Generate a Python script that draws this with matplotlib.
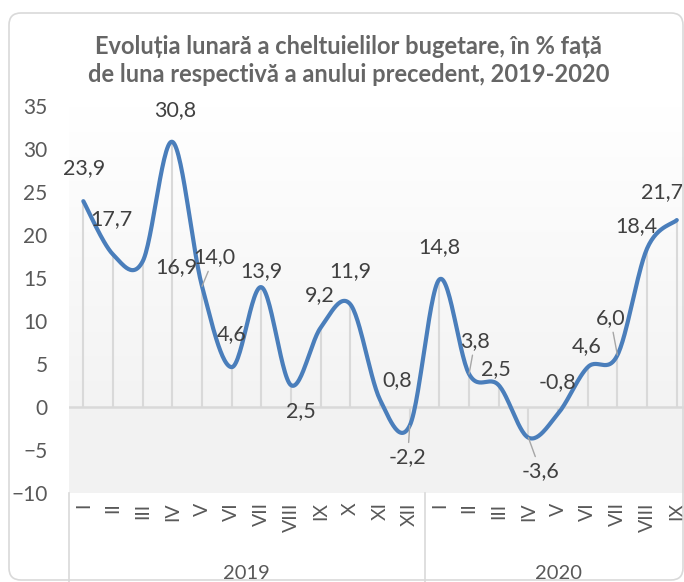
import numpy as np
import matplotlib.pyplot as plt
import matplotlib.transforms as mtransforms
from matplotlib.patches import FancyBboxPatch
from matplotlib.colors import LinearSegmentedColormap

plt.rcParams['font.family'] = ['Lato', 'DejaVu Sans']

# data
months = ['I', 'II', 'III', 'IV', 'V', 'VI', 'VII', 'VIII', 'IX', 'X', 'XI', 'XII',
          'I', 'II', 'III', 'IV', 'V', 'VI', 'VII', 'VIII', 'IX']
years = ['2019', '2020']
year_len = [12, 9]
values = [23.9, 17.7, 16.9, 30.8, 14.0, 4.6, 13.9, 2.5, 9.2, 11.9, 0.8, -2.2,
          14.8, 3.8, 2.5, -3.6, -0.8, 4.6, 6.0, 18.4, 21.7]

# label placement (pixels from the point), and which labels get a leader line
label_off = [(1, 33), (-2, 35), (34, -6), (3, 32), (12, 29), (0, 33), (0, 16),
             (10, -26), (-1, 32), (0, 33), (17, 20), (-2, -31), (0, 32), (6, 33),
             (-3, 16), (12, -33), (-1, 31), (-1, 21), (-7, 37), (-11, 22), (-15, 28)]
leaders = [4, 11, 13, 15, 18]

txt = '#595959'
blue = '#4A7EBB'
grid = '#d9d9d9'

fig = plt.figure(figsize=(6.84, 5.82), dpi=100)
ax = fig.add_axes([68.5 / 684, 89.3 / 582, 623.1 / 684, 387 / 582])

x = np.arange(len(values))
y = np.array(values)

# background: gradient above zero, flat grey below
cmap = LinearSegmentedColormap.from_list('bg', ['#f3f3f3', '#ffffff'])
ax.imshow(np.linspace(0, 1, 256).reshape(-1, 1), cmap=cmap, origin='lower',
          extent=(-0.5, 20.5, 0, 35), aspect='auto', zorder=0)
ax.axhspan(-10, 0, color='#f2f2f2', lw=0, zorder=0)

# drop lines and zero line
ax.vlines(x, 0, y, color=grid, lw=1.5, zorder=1)
ax.axhline(0, color=grid, lw=1.8, zorder=1)

# smoothed line (bezier through the points, like excel)
p = np.column_stack([x, y]).astype(float)
pp = np.vstack([p[0], p, p[-1]])
xs, ys = [], []
t = np.linspace(0, 1, 30)[:, None]
for i in range(len(p) - 1):
    p0, p1, p2, p3 = pp[i], pp[i + 1], pp[i + 2], pp[i + 3]
    c1 = p1 + (p2 - p0) / 6
    c2 = p2 - (p3 - p1) / 6
    b = ((1 - t) ** 3) * p1 + 3 * ((1 - t) ** 2) * t * c1 + 3 * (1 - t) * t ** 2 * c2 + t ** 3 * p2
    xs.extend(b[:, 0])
    ys.extend(b[:, 1])
ax.plot(xs, ys, color=blue, lw=3, solid_capstyle='round', zorder=3)

# data labels
for i, v in enumerate(values):
    s = ('%.1f' % v).replace('.', ',')
    dx, dy = label_off[i]
    ap = None
    if i in leaders:
        ap = dict(arrowstyle='-', color='#a6a6a6', lw=1, shrinkA=1, shrinkB=0)
    ax.annotate(s, (i, v), xytext=(dx, dy), textcoords='offset pixels',
                ha='center', va='center', fontsize=15.5, color='#404040',
                arrowprops=ap, zorder=4)

ax.set_xlim(-0.5, 20.5)
ax.set_ylim(-10, 35)
ax.set_yticks(range(-10, 36, 5))
ax.set_xticks(x)
ax.set_xticklabels(months, rotation=90)
ax.tick_params(axis='y', length=0, pad=15, labelsize=15, labelcolor=txt)
ax.tick_params(axis='x', length=0, pad=7, labelsize=14, labelcolor=txt)
for sp in ax.spines.values():
    sp.set_visible(False)

# year group labels and separators under the axis
tr = mtransforms.blended_transform_factory(ax.transData, ax.transAxes)
start = 0
bounds = [-0.5]
for yr, n in zip(years, year_len):
    ax.text(start + (n - 1) / 2, -0.21, yr, transform=tr, ha='center', va='center',
            fontsize=14.5, color=txt)
    start += n
    bounds.append(start - 0.5)
for b in bounds:
    ax.plot([b, b], [0, -0.24], transform=tr, color=grid, lw=1.2, clip_on=False)

# title
title_col = '#666666'
fig.text(0.51, 1 - 47 / 582, 'Evoluția lunară a cheltuielilor bugetare, în % față',
         ha='center', va='center', fontsize=17, fontweight='bold', color=title_col)
fig.text(0.51, 1 - 75 / 582, 'de luna respectivă a anului precedent, 2019-2020',
         ha='center', va='center', fontsize=17, fontweight='bold', color=title_col)

# chart frame
frame = FancyBboxPatch((0.09, 0.02), 6.74, 5.67, boxstyle='round,pad=0,rounding_size=0.12',
                       transform=fig.dpi_scale_trans, facecolor='none', edgecolor=grid,
                       lw=1.2, zorder=10)
fig.patches.append(frame)

fig.savefig('out.png', dpi=100)
